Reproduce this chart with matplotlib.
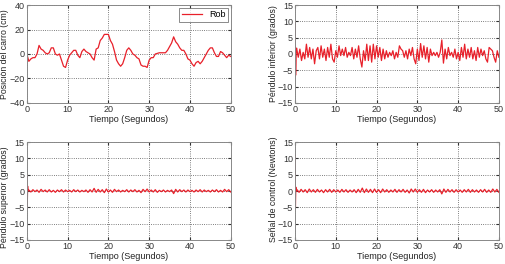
import numpy as np
import matplotlib
matplotlib.use("Agg")
import matplotlib.pyplot as plt

plt.rcParams['font.family'] = ['Liberation Sans', 'DejaVu Sans']

# --- datos ---
t_carro = np.arange(0, 50.01, 0.5)
pos_carro = [0, -6, -4, -3, -3, 0, 7, 4, 3, 1, 0,
             1, 5, 5, 0, -1, 0, -5, -10, -11, -5,
             -1, 1, 3, 3, -1, -3, 2, 4, 2, 1,
             0, -3, -5, 4, 5, 11, 13, 16, 16, 16,
             11, 8, 2, -5, -8, -10, -8, -3, 3, 5,
             3, 0, -1, -3, -4, -9, -10, -10, -11, -5,
             -3, -3, 0, 0.5, 1, 1, 1, 1, 3, 6,
             9, 14, 10, 8, 5, 3, 3, 0, -4, -5,
             -8, -10, -7, -6, -8, -6, -3, 0, 3, 5,
             5, 1, -2, -2, 2, 1, -1, -3, -1, -2]

t_inicio = [0.0, 0.05, 0.15, 0.3]
inf_inicio = [0.0, 10.0, -6.5, 1.5]
t_inf = np.round(np.arange(0.4, 50.01, 0.4), 2)
pend_inf = [1.8, -1, 1.5, -2, 0.5, -1.5, 3, -1, 2, -1.5,
            1.5, -3, 1, 2, -1.5, 2.5, -1, 1.5, -2, 2,
            -1, 3, -1.5, -2.5, 1, -1, 2.5, -0.5, 1.5, -0.5,
            2, -1, 0.5, -0.5, 2, -1.5, 1.5, -1, 2.5, -1.5,
            -4, 1, -2, 3, -2, 2.5, -2.5, 3, -1.5, 2.5,
            -1, 2, -2, 1.5, -1.5, 1, -1, 0.5, -0.5, 1,
            -1.5, 0.5, -1, 2.5, 1.5, 1, -1, 1, -1.5, 1.5,
            -0.5, 2, -1.5, -3, 1.5, -2, 3.2, -1, 2.5, -1.5,
            2, -2.5, 1.5, -0.5, 0.5, -0.5, 0.5, -1, 0.5, 4.3,
            -2.8, 1.5, -1.5, 2, -0.5, 0.5, -1, 1.5, -1.5, 0.5,
            -2, 2, -1, 3, -1.5, 1.5, -1, 2, -1.5, 1,
            -2, 2, -1, 1.5, -0.5, 1, -1.5, -2.5, 2, 1.5,
            1, -1, -2.5, 1, -1]

t_ini2 = [0.0, 0.04, 0.1, 0.2, 0.3]
sup_inicio = [0.0, 5.0, -5.0, 1.5, 0.0]
ctrl_inicio = [0.0, 11.0, -5.0, 1.2, 0.0]
t_peq = np.arange(0.5, 50.01, 0.5)
pend_sup = [0.3, -0.3, 0.4, -0.2, 0.3, -0.4, 0.5, -0.2, 0.3, -0.3,
            0.4, -0.3, 0.2, -0.4, 0.3, -0.2, 0.4, -0.3, 0.3, -0.2,
            0.2, -0.3, 0.4, -0.2, 0.3, -0.3, 0.2, -0.2, 0.3, -0.4,
            0.4, -0.3, 0.8, -0.4, 0.5, -0.3, 0.4, -0.5, 0.6, -0.3,
            0.3, -0.4, 0.5, -0.2, 0.3, -0.3, 0.2, -0.2, 0.4, -0.3,
            0.3, -0.2, 0.4, -0.3, 0.2, -0.5, 0.5, -0.2, 0.6, -0.3,
            0.3, -0.3, 0.4, -0.4, 0.2, -0.2, 0.3, -0.3, 0.2, -0.2,
            0.3, -0.8, 0.5, -0.3, 0.4, -0.2, 0.3, -0.3, 0.3, -0.2,
            0.2, -0.3, 0.3, -0.2, 0.4, -0.3, 0.3, -0.2, 0.2, -0.3,
            0.3, -0.2, 0.4, -0.3, 0.2, -0.3, 0.5, -0.2, 0.4, -0.3]
senal_ctrl = [0.4, -0.4, 0.5, -0.3, 0.4, -0.5, 0.6, -0.3, 0.4, -0.4,
              0.5, -0.3, 0.3, -0.5, 0.4, -0.3, 0.5, -0.4, 0.4, -0.3,
              0.3, -0.4, 0.5, -0.3, 0.4, -0.4, 0.3, -0.3, 0.4, -0.5,
              0.5, -0.4, 0.9, -0.5, 0.6, -0.4, 0.5, -0.5, 0.6, -0.4,
              0.4, -0.5, 0.6, -0.3, 0.4, -0.4, 0.3, -0.3, 0.5, -0.4,
              0.4, -0.3, 0.5, -0.4, 0.3, -0.6, 0.6, -0.3, 0.6, -0.4,
              0.4, -0.4, 0.5, -0.5, 0.3, -0.3, 0.4, -0.4, 0.3, -0.3,
              0.4, -0.9, 0.6, -0.4, 0.5, -0.3, 0.4, -0.4, 0.4, -0.3,
              0.3, -0.4, 0.4, -0.3, 0.5, -0.4, 0.4, -0.3, 0.3, -0.4,
              0.4, -0.3, 0.5, -0.4, 0.3, -0.4, 0.6, -0.3, 0.5, -0.4]

etiquetas_y = ["Posición del carro (cm)", "Péndulo inferior (grados)",
               "Péndulo superior (grados)", "Señal de control (Newtons)"]

ROJO = "#e8202a"
fig = plt.figure(figsize=(5.06, 2.64), dpi=100)

posiciones = [[0.053, 0.610, 0.403, 0.371],
              [0.583, 0.610, 0.403, 0.371],
              [0.053, 0.091, 0.403, 0.371],
              [0.583, 0.091, 0.403, 0.371]]
# centro vertical aproximado de cada etiqueta y
centro_ylabel = [0.5, 0.5, 0.44, 0.52]

series = [
    (t_carro, pos_carro),
    (np.concatenate([t_inicio, t_inf]), inf_inicio + pend_inf),
    (np.concatenate([t_ini2, t_peq]), sup_inicio + pend_sup),
    (np.concatenate([t_ini2, t_peq]), ctrl_inicio + senal_ctrl),
]

for i, pos in enumerate(posiciones):
    ax = fig.add_axes(pos)
    tx, yv = series[i]
    ax.plot(tx, yv, color=ROJO, lw=0.9, label="Rob")
    ax.set_xlim(0, 50)
    ax.set_xticks([0, 10, 20, 30, 40, 50])
    if i == 0:
        ax.set_ylim(-40, 40)
        ax.set_yticks([-40, -20, 0, 20, 40])
        leg = ax.legend(loc="upper right", fontsize=6.5, fancybox=False,
                        handlelength=2.2, borderpad=0.3, borderaxespad=0.3)
        leg.get_frame().set_edgecolor("#555555")
        leg.get_frame().set_linewidth(0.6)
    else:
        ax.set_ylim(-15, 15)
        ax.set_yticks([-15, -10, -5, 0, 5, 10, 15])
    ax.grid(True, ls=":", color="#555555", lw=0.6)
    ax.tick_params(direction="in", labelsize=6.5, length=2, pad=1.5,
                   top=True, right=True, colors="#333333")
    for s in ax.spines.values():
        s.set_color("#888888")
        s.set_linewidth(0.7)
    ax.set_xlabel("Tiempo (Segundos)", fontsize=6.5, labelpad=0.5, color="#222222")
    ax.set_ylabel(etiquetas_y[i], fontsize=6.3, color="#222222")
    ax.yaxis.set_label_coords(-0.085, centro_ylabel[i])

fig.savefig("out.png", dpi=100)
